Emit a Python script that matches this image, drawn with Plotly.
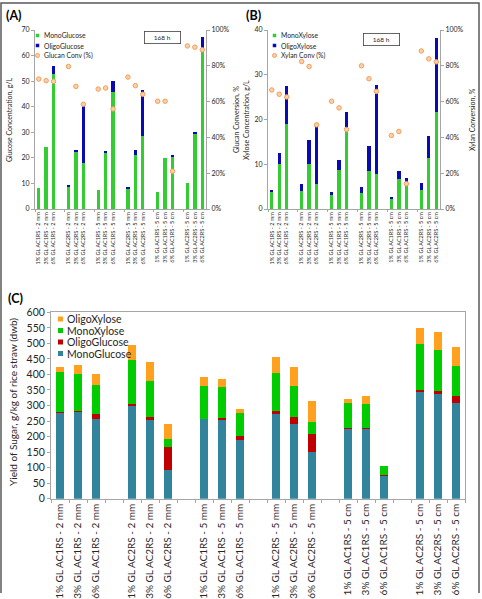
import plotly.graph_objects as go

W, H = 482, 599

# ---------------- data ----------------
groups = ["GL AC1RS - 2 mm", "GL AC2RS - 2 mm", "GL AC1RS - 5 mm",
          "GL AC2RS - 5 mm", "GL AC1RS - 5 cm", "GL AC2RS - 5 cm"]
loadings = ["1%", "3%", "6%"]

# Panel A: glucose concentration (g/L) and glucan conversion (%)
glc_mono = [8.2, 24.4, 52.8, 8.7, 22.3, 17.9, 7.4, 21.9, 45.7, 7.9, 21.0, 28.5, 6.7, 20.1, 20.5, 10.1, 29.3, 62.3]
glc_oligo = [0.0, 0.0, 3.2, 0.3, 0.7, 22.3, 0.0, 0.8, 4.3, 0.4, 2.0, 17.9, 0.0, 0.0, 0.5, 0.0, 0.9, 5.1]
glucan_conv = [72.6, 71.7, 71.3, 79.6, 68.5, 58.5, 67.0, 67.6, 55.9, 73.7, 68.9, 64.1, 60.2, 60.2, 21.1, 91.1, 90.4, 88.9]

# Panel B: xylose concentration (g/L) and xylan conversion (%)
xyl_mono = [3.7, 10.1, 19.1, 4.1, 10.1, 5.5, 3.1, 8.7, 17.6, 3.5, 8.5, 7.9, 2.4, 6.6, 5.6, 4.3, 11.4, 21.6]
xyl_oligo = [0.5, 2.5, 8.3, 1.4, 5.4, 13.8, 0.8, 2.3, 4.1, 1.5, 5.5, 19.9, 0.3, 2.0, 1.4, 1.5, 5.0, 16.6]
xylan_conv = [66.5, 64.1, 62.6, 82.4, 79.6, 47.0, 60.2, 56.5, 44.4, 80.0, 72.8, 65.7, 41.1, 43.3, 14.1, 88.3, 83.9, 82.2]

# Panel C: sugar yield (g/kg rice straw, dwb)
yld_monoglc = [278, 280, 256, 297, 254, 91, 256, 252, 190, 272, 240, 150, 226, 226, 75, 344, 336, 309]
yld_oligoglc = [2, 2, 18, 9, 9, 76, 1, 9, 13, 10, 22, 57, 1, 1, 1, 5, 11, 22]
yld_monoxyl = [127, 118, 92, 141, 116, 24, 107, 97, 74, 124, 101, 39, 82, 78, 29, 149, 131, 97]
yld_oligoxyl = [18, 29, 35, 48, 61, 49, 28, 28, 13, 51, 62, 67, 12, 24, 0, 52, 60, 59]

# ---------------- categories (with an empty slot between groups) ----------------
labels, pos = [], []
for g, grp in enumerate(groups):
    for i, ld in enumerate(loadings):
        labels.append(f"{ld} {grp}")
        pos.append(g * 4 + i)
xr = [-0.5, max(pos) + 0.5]

glc_conv_frac = [v / 100 for v in glucan_conv]
xyl_conv_frac = [v / 100 for v in xylan_conv]

FONT = "Lato"
TXT = "#262626"
AX = "#A6A6A6"
C_GREEN = "#33CC33"
C_BLUE = "#0A0AB4"
C_TEAL = "#31849B"
C_RED = "#C00000"
C_GREEN2 = "#00CC00"
C_ORANGE = "#FFA01E"
PT_FILL = "#FAD0AA"
PT_LINE = "#F2A05A"


def px(x):
    return x / W


def py(y):
    return 1 - y / H


fig = go.Figure()

# Panel A
fig.add_trace(go.Bar(x=pos, y=glc_mono, name="MonoGlucose", marker_color=C_GREEN,
                     width=0.45, xaxis="x", yaxis="y", showlegend=False))
fig.add_trace(go.Bar(x=pos, y=glc_oligo, name="OligoGlucose", marker_color=C_BLUE,
                     width=0.45, xaxis="x", yaxis="y", showlegend=False))
fig.add_trace(go.Scatter(x=pos, y=glc_conv_frac, name="Glucan Conv (%)", mode="markers",
                         marker=dict(size=4.5, color=PT_FILL, line=dict(color=PT_LINE, width=1)),
                         xaxis="x", yaxis="y2", showlegend=False))
# Panel B
fig.add_trace(go.Bar(x=pos, y=xyl_mono, name="MonoXylose", marker_color=C_GREEN,
                     width=0.45, xaxis="x2", yaxis="y3", showlegend=False))
fig.add_trace(go.Bar(x=pos, y=xyl_oligo, name="OligoXylose", marker_color=C_BLUE,
                     width=0.45, xaxis="x2", yaxis="y3", showlegend=False))
fig.add_trace(go.Scatter(x=pos, y=xyl_conv_frac, name="Xylan Conv (%)", mode="markers",
                         marker=dict(size=4.5, color=PT_FILL, line=dict(color=PT_LINE, width=1)),
                         xaxis="x2", yaxis="y4", showlegend=False))
# Panel C
for vals, nm, col in [(yld_monoglc, "MonoGlucose", C_TEAL), (yld_oligoglc, "OligoGlucose", C_RED),
                      (yld_monoxyl, "MonoXylose", C_GREEN2), (yld_oligoxyl, "OligoXylose", C_ORANGE)]:
    fig.add_trace(go.Bar(x=pos, y=vals, name=nm, marker_color=col, width=0.4,
                         xaxis="x3", yaxis="y5", showlegend=False))

small_tick = dict(family=FONT, size=7, color=TXT)
xa_common = dict(range=xr, tickmode="array", tickvals=pos, ticktext=labels, tickangle=-90,
                 showline=True, linecolor=AX, linewidth=1, showgrid=False, zeroline=False,
                 ticks="", automargin=False, fixedrange=True)
ya_common = dict(showline=True, linecolor=AX, linewidth=1, showgrid=False, zeroline=False,
                 ticks="outside", ticklen=3, tickcolor=AX, automargin=False, tickfont=small_tick)

ydomAB = [py(209), py(30)]

fig.update_layout(
    width=W, height=H, template="none",
    margin=dict(l=0, r=0, t=0, b=0),
    paper_bgcolor="white", plot_bgcolor="rgba(0,0,0,0)",
    font=dict(family=FONT, color=TXT),
    barmode="stack", showlegend=False,
    xaxis=dict(domain=[px(35), px(206)], anchor="y",
               tickfont=dict(family=FONT, size=5.5, color=TXT),
               minor=dict(ticks="outside", tick0=-0.5, dtick=4, ticklen=2, tickcolor=AX),
               **xa_common),
    yaxis=dict(domain=ydomAB, anchor="x", range=[0, 70], dtick=10, **ya_common),
    yaxis2=dict(overlaying="y", side="right", anchor="x", range=[0, 1], dtick=0.2,
                tickformat=".0%", **ya_common),
    xaxis2=dict(domain=[px(268), px(440)], anchor="y3",
                tickfont=dict(family=FONT, size=5.5, color=TXT),
                minor=dict(ticks="outside", tick0=-0.5, dtick=4, ticklen=2, tickcolor=AX),
                **xa_common),
    yaxis3=dict(domain=ydomAB, anchor="x2", range=[0, 40], dtick=10, **ya_common),
    yaxis4=dict(overlaying="y3", side="right", anchor="x2", range=[0, 1], dtick=0.2,
                tickformat=".0%", **ya_common),
    xaxis3=dict(domain=[px(51), px(465)], anchor="y5", mirror=True,
                tickfont=dict(family=FONT, size=10, color=TXT),
                minor=dict(ticks="outside", tick0=-0.5, dtick=1, ticklen=3, tickcolor=AX),
                **xa_common),
    yaxis5=dict(domain=[py(498.7), py(312.3)], anchor="x3", range=[0, 600], dtick=50, mirror=True,
                **{**ya_common, "tickfont": dict(family=FONT, size=10.5, color=TXT)}),
)

ann = []
shapes = []

# panel letters
ann.append(dict(text="<b>(A)</b>", x=px(4), y=py(15), xref="paper", yref="paper",
                xanchor="left", yanchor="middle", showarrow=False, font=dict(size=12.5, family=FONT, color="black")))
ann.append(dict(text="<b>(B)</b>", x=px(244), y=py(15), xref="paper", yref="paper",
                xanchor="left", yanchor="middle", showarrow=False, font=dict(size=12.5, family=FONT, color="black")))
ann.append(dict(text="<b>(C)</b>", x=px(6), y=py(298), xref="paper", yref="paper",
                xanchor="left", yanchor="middle", showarrow=False, font=dict(size=12.5, family=FONT, color="black")))

# axis titles
def vtitle(text, x, y, size):
    ann.append(dict(text=text, x=px(x), y=py(y), xref="paper", yref="paper", textangle=-90,
                    xanchor="center", yanchor="middle", showarrow=False,
                    font=dict(size=size, family=FONT, color=TXT)))

vtitle("Glucose Concentration, g/L", 10, 120, 7)
vtitle("Glucan Conversion, %", 237, 120, 7)
vtitle("Xylose Concentration, g/L", 247, 120, 7)
vtitle("Xylan Conversion, %", 473, 120, 7)
vtitle("Yield of Sugar, g/kg of rice straw (dwb)", 13, 402, 10)

# 168 h boxes
for cx, cy in [(162, 38), (381, 40)]:
    ann.append(dict(text="168 h", x=px(cx), y=py(cy), xref="paper", yref="paper",
                    xanchor="center", yanchor="middle", showarrow=False, width=32, height=8,
                    bordercolor="#404040", borderwidth=0.8, borderpad=1.5, bgcolor="white",
                    font=dict(size=6.5, family=FONT, color=TXT)))

# manual legends
def leg_square(x, y, s, col):
    shapes.append(dict(type="rect", xref="paper", yref="paper", x0=px(x - s / 2), x1=px(x + s / 2),
                       y0=py(y + s / 2), y1=py(y - s / 2), fillcolor=col, line=dict(width=0)))


def leg_circle(x, y, s):
    shapes.append(dict(type="circle", xref="paper", yref="paper", x0=px(x - s / 2), x1=px(x + s / 2),
                       y0=py(y + s / 2), y1=py(y - s / 2), fillcolor=PT_FILL, line=dict(width=1, color=PT_LINE)))


def leg_text(text, x, y, size):
    ann.append(dict(text=text, x=px(x), y=py(y), xref="paper", yref="paper", xanchor="left",
                    yanchor="middle", showarrow=False, font=dict(size=size, family=FONT, color=TXT)))


for base_x, names in [(37.5, ["MonoGlucose", "OligoGlucose", "Glucan Conv (%)"]),
                      (274.5, ["MonoXylose", "OligoXylose", "Xylan Conv (%)"])]:
    rows = [35.5, 45.5, 55.5]
    leg_square(base_x, rows[0], 3.5, C_GREEN)
    leg_square(base_x, rows[1], 3.5, C_BLUE)
    leg_circle(base_x, rows[2], 4)
    for r, nm in zip(rows, names):
        leg_text(nm, base_x + 4.5, r, 6.8)

rowsC = [319, 330.5, 342, 353.5]
for r, nm, col in zip(rowsC, ["OligoXylose", "MonoXylose", "OligoGlucose", "MonoGlucose"],
                      [C_ORANGE, C_GREEN2, C_RED, C_TEAL]):
    leg_square(60.5, r, 5, col)
    leg_text(nm, 65, r, 10.5)

# outer frame
shapes.append(dict(type="path", xref="paper", yref="paper",
                   path=f"M {px(1)},{py(593)} L {px(1)},{py(3)} L {px(479)},{py(3)} L {px(479)},{py(593)}",
                   line=dict(color="#5a5a5a", width=1.5)))

fig.update_layout(annotations=ann, shapes=shapes)
fig.write_html("out.html")
